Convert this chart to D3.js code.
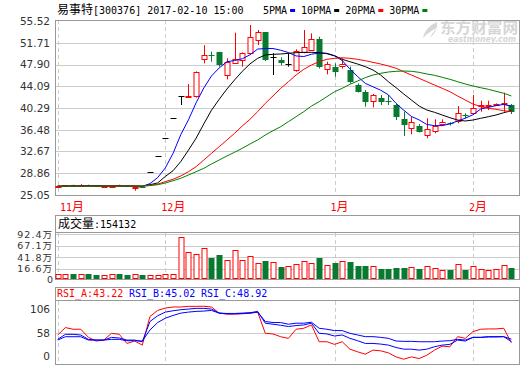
<!DOCTYPE html>
<html>
<head>
<meta charset="utf-8">
<title>易事特 300376</title>
<script src="https://cdn.jsdelivr.net/npm/d3@7"></script>
<style>
  body { margin: 0; background: #fff; }
  svg text { font-family: "DejaVu Sans", sans-serif; }
</style>
</head>
<body>
<div id="chart"></div>
<script>
// ---- data ----
const monthLabels = ["11月", "12月", "1月", "2月"];
const monthStart = [0, 14, 36, 54];

const open = [26.50, 26.55, 26.80, 26.65, 26.80, 26.70, 26.55, 26.55, 26.80, 26.65, 26.45, 26.50,
  29.00, 31.90, 35.05, 38.50, 42.30, 42.10, 42.26, 48.81, 49.50, 50.14, 46.18, 48.11, 48.69, 49.97,
  52.31, 53.54, 49.16, 48.69, 47.94, 47.06, 50.03, 50.44, 52.37, 47.06, 47.52, 47.52, 46.94, 44.31,
  43.14, 41.56, 42.04, 41.56, 40.81, 38.30, 36.73, 37.13, 35.56, 36.26, 37.60, 37.60, 37.89, 39.00,
  39.35, 40.63, 40.69, 40.75, 40.98, 40.75];
const high = [26.60, 26.80, 26.85, 26.95, 26.85, 26.75, 26.65, 26.70, 26.85, 26.70, 26.55, 26.55,
  29.00, 31.90, 35.05, 38.50, 42.30, 44.49, 46.70, 51.30, 50.14, 50.14, 48.98, 53.47, 50.03, 54.82,
  53.94, 53.54, 49.86, 49.16, 49.86, 50.56, 53.94, 53.36, 52.77, 48.39, 48.11, 48.98, 47.52, 44.60,
  43.44, 42.74, 42.56, 42.56, 41.00, 39.64, 38.76, 37.48, 38.48, 38.30, 38.30, 37.78, 40.63, 39.35,
  42.56, 41.56, 41.56, 41.10, 42.97, 40.98];
const low = [26.30, 26.50, 26.60, 26.60, 26.60, 26.55, 26.50, 26.50, 26.60, 26.55, 25.80, 26.35,
  29.00, 31.90, 35.05, 38.50, 40.81, 42.10, 42.10, 48.10, 48.39, 47.52, 45.31, 48.11, 47.52, 49.80,
  51.32, 48.50, 46.06, 47.76, 47.52, 46.64, 49.86, 50.30, 47.20, 46.18, 45.77, 47.20, 44.60, 43.00,
  40.51, 40.40, 40.81, 40.81, 38.18, 35.38, 35.68, 36.00, 34.98, 35.85, 37.13, 37.20, 37.60, 38.48,
  39.06, 39.64, 39.93, 40.70, 39.64, 39.23];
const close = [26.55, 26.75, 26.65, 26.75, 26.65, 26.60, 26.60, 26.65, 26.65, 26.60, 26.50, 26.40,
  29.00, 31.90, 35.05, 38.50, 42.30, 42.30, 46.54, 49.57, 49.45, 47.94, 48.39, 48.81, 49.86, 52.77,
  53.65, 48.69, 49.16, 48.22, 47.94, 50.32, 50.91, 52.37, 47.41, 47.94, 46.64, 47.94, 44.89, 43.14,
  41.39, 42.56, 41.39, 41.33, 38.76, 37.31, 37.78, 36.14, 36.55, 37.13, 37.89, 37.37, 39.35, 38.83,
  40.23, 40.81, 40.81, 40.93, 41.21, 39.46];
// volume, 万
const volume = [5.0, 5.0, 5.8, 5.0, 5.8, 3.6, 2.9, 5.0, 5.8, 3.6, 5.0, 3.6, 2.9, 2.9, 5.0, 5.0,
  85.3, 54.2, 48.4, 61.4, 41.2, 47.0, 35.4, 57.1, 35.4, 44.1, 28.9, 34.0, 31.1, 21.7, 23.1, 27.4,
  34.0, 29.6, 41.2, 25.3, 30.3, 34.0, 31.8, 23.8, 23.1, 23.1, 17.3, 16.6, 19.5, 19.5, 20.9, 16.6,
  23.1, 19.5, 13.7, 14.4, 26.7, 14.4, 23.1, 16.6, 14.4, 16.6, 25.3, 19.5];

const ma5 = [26.60, 26.60, 26.62, 26.65, 26.68, 26.67, 26.65, 26.63, 26.63, 26.62, 26.60, 26.56,
  27.04, 28.10, 29.80, 32.35, 35.60, 38.20, 41.20, 43.80, 45.90, 47.30, 48.39, 48.60, 48.90, 49.60,
  50.60, 50.70, 50.70, 50.40, 50.00, 49.40, 49.30, 49.70, 49.90, 49.80, 49.40, 48.60, 47.10, 45.80,
  44.60, 44.00, 43.40, 42.60, 41.10, 39.90, 38.80, 38.20, 37.40, 37.20, 37.20, 37.50, 38.00, 38.50,
  39.10, 40.10, 40.40, 40.70, 40.90, 40.60];
const ma10 = [26.60, 26.60, 26.60, 26.61, 26.62, 26.63, 26.63, 26.63, 26.63, 26.62, 26.62, 26.60,
  26.85, 27.16, 28.30, 29.30, 30.90, 32.90, 35.00, 37.50, 39.90, 41.80, 43.60, 45.20, 46.70, 48.00,
  48.98, 49.57, 49.69, 49.74, 49.86, 49.97, 50.03, 50.03, 49.97, 49.86, 49.45, 48.81, 48.39, 47.99,
  47.52, 46.94, 46.06, 44.89, 43.84, 42.74, 41.68, 40.63, 39.93, 39.53, 39.06, 38.59, 38.18, 38.01,
  38.18, 38.48, 38.76, 39.06, 39.46, 39.81];
const ma20 = [26.60, 26.60, 26.60, 26.60, 26.61, 26.61, 26.62, 26.62, 26.62, 26.62, 26.61, 26.60,
  26.75, 26.95, 27.40, 27.80, 28.38, 29.13, 30.01, 31.18, 32.35, 33.51, 34.68, 35.85, 37.13, 38.30,
  39.64, 41.10, 42.39, 43.73, 44.89, 46.06, 47.06, 47.81, 48.39, 48.81, 48.98, 49.09, 48.98, 48.81,
  48.57, 48.28, 47.99, 47.64, 47.24, 46.64, 46.06, 45.48, 44.89, 44.31, 43.73, 43.14, 42.39, 41.68,
  40.98, 40.51, 40.23, 40.06, 39.81, 39.64];
const ma30 = [26.60, 26.60, 26.60, 26.60, 26.60, 26.60, 26.61, 26.61, 26.61, 26.61, 26.61, 26.60,
  26.70, 26.85, 27.15, 27.55, 27.97, 28.55, 29.13, 29.72, 30.48, 31.18, 31.88, 32.53, 33.23, 33.98,
  34.68, 35.56, 36.31, 37.01, 37.89, 38.76, 39.64, 40.63, 41.39, 42.26, 43.14, 43.73, 44.43, 45.01,
  45.60, 46.06, 46.36, 46.59, 46.71, 46.76, 46.71, 46.53, 46.24, 46.01, 45.66, 45.31, 44.89, 44.49,
  44.14, 43.84, 43.56, 43.21, 42.86, 42.39];

const rsiA = [55.3, 66.9, 64.3, 64.3, 51.7, 46.0, 47.5, 58.0, 56.4, 42.3, 46.0, 39.7,
  84.1, 93.5, 97.2, 98.8, 98.8, 99.8, 99.8, 100.0, 98.8, 89.3, 87.8, 87.8, 88.3, 89.3,
  91.0, 58.0, 57.0, 52.7, 50.1, 64.3, 65.8, 71.0, 44.9, 44.9, 40.8, 44.9, 33.4, 29.3,
  25.6, 31.9, 30.8, 27.7, 21.4, 17.8, 21.4, 18.8, 24.0, 31.9, 38.1, 37.1, 52.8, 50.2,
  60.6, 64.3, 64.8, 64.8, 65.8, 43.2];
const rsiB = [48.6, 56.4, 56.4, 55.3, 48.6, 47.5, 47.5, 51.7, 50.7, 47.5, 47.5, 44.9,
  76.3, 85.2, 90.9, 93.0, 94.6, 95.6, 96.7, 96.7, 95.6, 89.3, 88.8, 88.8, 89.3, 89.9,
  92.0, 73.7, 72.1, 70.5, 68.5, 70.0, 71.0, 73.7, 58.0, 57.0, 53.8, 55.4, 50.2, 46.5,
  42.3, 42.3, 41.3, 39.7, 36.0, 33.4, 33.4, 31.9, 33.4, 37.1, 39.7, 40.8, 47.5, 46.0,
  51.7, 51.7, 52.8, 52.8, 52.8, 45.0];
const rsiC = [47.5, 52.7, 52.7, 52.7, 47.5, 47.5, 47.5, 48.6, 48.6, 46.5, 46.5, 46.0,
  63.2, 74.7, 81.5, 85.7, 89.3, 90.9, 92.0, 92.5, 93.5, 89.3, 88.3, 88.3, 88.8, 89.3,
  90.9, 76.3, 74.7, 74.7, 72.1, 73.7, 73.7, 75.2, 65.8, 64.3, 62.2, 62.2, 58.0, 55.4,
  52.8, 52.8, 51.7, 50.2, 46.0, 45.5, 45.5, 44.9, 44.9, 44.9, 46.0, 46.5, 48.6, 47.5,
  51.7, 51.7, 52.3, 52.3, 52.8, 48.9];

const priceTicks = [55.52, 51.71, 47.90, 44.09, 40.29, 36.48, 32.67, 28.86, 25.05];
const volTicks = [92.4, 67.1, 41.8, 16.6];
const rsiTicks = [106, 58];

const maNames = ["5PMA", "10PMA", "20PMA", "30PMA"];
const maColors = ["#0000ff", "#000000", "#ff0000", "#008000"];

// ---- layout ----
const W = 520, H = 365;
const L = 56, R = 519;
const RED = "#ff0000", GREEN = "#087a30", GRID = "#cccccc", BORDER = "#999999";

const svg = d3.select("#chart").append("svg").attr("width", W).attr("height", H);

const n = close.length;
const x = d3.scalePoint().domain(d3.range(n)).range([57.7, 511.4]);
const yP = d3.scaleLinear().domain([25.05, 55.52]).range([195, 21]);
const yV = d3.scaleLinear().domain([-5.1, 96.2]).range([279, 232.3]);
const yR = d3.scaleLinear().domain([9.9, 108.6]).range([364.3, 300.7]);

const px = v => Math.round(v) + 0.5;
const isCjk = s => /[\u4e00-\u9fff]/.test(s);

// mixed latin / CJK text like the old bitmap font
function mixText(g, str, tx, ty, fill, asciiSize, cjkSize, anchor, latinFont) {
  const t = g.append("text").attr("x", tx).attr("y", ty).attr("fill", fill)
    .attr("text-anchor", anchor || "start");
  (str.match(/[\u4e00-\u9fff]+|[^\u4e00-\u9fff]+/g) || []).forEach(part => {
    const cjk = isCjk(part);
    t.append("tspan").text(part)
      .style("font-family", cjk ? "'Noto Sans CJK SC', sans-serif" : (latinFont || "'DejaVu Sans Mono', monospace"))
      .style("font-size", (cjk ? cjkSize : asciiSize) + "px");
  });
  return t;
}

function box(top, bottom) {
  svg.append("rect").attr("x", L - 0.5).attr("y", top + 0.5)
    .attr("width", R - L + 1).attr("height", bottom - top)
    .attr("fill", "none").attr("stroke", BORDER);
}

function monthLines(top, bottom) {
  svg.append("g").selectAll("line").data(monthStart).join("line")
    .attr("x1", d => px(x(d))).attr("x2", d => px(x(d)))
    .attr("y1", top).attr("y2", bottom)
    .attr("stroke", GRID).attr("stroke-dasharray", "4,3");
}

// ---- header ----
mixText(svg, "易事特[300376] 2017-02-10 15:00", 57, 14, "#000", 10, 12);
let lx = 263;
maNames.forEach((name, k) => {
  mixText(svg, name, lx, 14, "#000", 10, 12);
  lx += name.length * 6.02 + 3;
  svg.append("rect").attr("x", lx).attr("y", 9).attr("width", 5).attr("height", 3).attr("fill", maColors[k]);
  lx += 11;
});

// ---- price panel ----
svg.append("g").selectAll("line").data(priceTicks.slice(1, -1)).join("line")
  .attr("x1", L).attr("x2", R).attr("y1", d => px(yP(d))).attr("y2", d => px(yP(d)))
  .attr("stroke", GRID);
monthLines(20, 195);

// watermark
svg.append("path")
  .attr("d", "M437,22 C430,25 424,31 423,38 C428,33 432,30 437,28 C433,32 431,35 430,38 C435,33 438,28 437,22 Z")
  .attr("fill", "#d6d6d6");
svg.append("text").attr("x", 440).attr("y", 33).text("东方财富网")
  .attr("textLength", 78).attr("lengthAdjust", "spacingAndGlyphs")
  .style("font-family", "'Noto Sans CJK SC', sans-serif").style("font-size", "15px")
  .style("font-weight", "bold").attr("fill", "#d6d6d6");
svg.append("text").attr("x", 448).attr("y", 42).text("eastmoney.com")
  .attr("textLength", 68).attr("lengthAdjust", "spacingAndGlyphs")
  .style("font-size", "8px").style("font-weight", "bold").style("font-style", "italic")
  .attr("fill", "#d6d6d6");

box(20, 195);

const axP = svg.append("g").attr("transform", `translate(${L - 3},0)`)
  .call(d3.axisLeft(yP).tickValues(priceTicks).tickSize(0).tickFormat(d3.format(".2f")));
axP.select(".domain").remove();
axP.selectAll("text").attr("fill", "#333").style("font-size", "10.5px")
  .style("font-family", "'DejaVu Sans', sans-serif");

const colorOf = i => close[i] > open[i] ? RED : close[i] < open[i] ? GREEN : "#000";

const candles = svg.append("g");
d3.range(n).forEach(i => {
  const cx = px(x(i));
  const col = colorOf(i);
  candles.append("line").attr("x1", cx).attr("x2", cx)
    .attr("y1", yP(high[i])).attr("y2", yP(low[i])).attr("stroke", col);
  if (close[i] === open[i]) {
    candles.append("line").attr("x1", cx - 3).attr("x2", cx + 3)
      .attr("y1", px(yP(close[i]))).attr("y2", px(yP(close[i]))).attr("stroke", col);
  } else if (close[i] > open[i]) {
    const y0 = yP(close[i]), y1 = yP(open[i]);
    candles.append("rect").attr("x", cx - 2.5).attr("y", Math.round(y0) + 0.5)
      .attr("width", 5).attr("height", Math.max(1, Math.round(y1 - y0)))
      .attr("fill", "#fff").attr("stroke", col);
  } else {
    const y0 = yP(open[i]), y1 = yP(close[i]);
    candles.append("rect").attr("x", cx - 3).attr("y", Math.round(y0))
      .attr("width", 6).attr("height", Math.max(1, Math.round(y1 - y0)))
      .attr("fill", col);
  }
});

[ma5, ma10, ma20, ma30].forEach((s, k) => {
  svg.append("path").datum(s)
    .attr("d", d3.line().x((d, i) => x(i)).y(d => yP(d)))
    .attr("fill", "none").attr("stroke", maColors[k]).attr("stroke-width", 1);
});

// month labels
monthLabels.forEach((m, k) => {
  mixText(svg, m, Math.max(60, x(monthStart[k]) - 4), 211, RED, 10, 12);
});

// ---- volume panel ----
box(215, 232);
mixText(svg, "成交量:" + "154132", 58, 228, "#000", 10, 12);
svg.append("g").selectAll("line").data(volTicks).join("line")
  .attr("x1", L).attr("x2", R).attr("y1", d => px(yV(d))).attr("y2", d => px(yV(d)))
  .attr("stroke", GRID);
monthLines(233, 279);
box(232, 279);

const volLabels = svg.append("g");
volTicks.concat([yV.domain()[0]]).forEach(v => {
  const t = mixText(volLabels, v < 0 ? "0" : v + "万", 53, yV(v) + 3.5, "#333", 9.5, 9.5, "end",
    "'DejaVu Sans', sans-serif");
  t.attr("letter-spacing", v < 0 ? 0 : 1);
});

svg.append("g").selectAll("rect").data(volume).join("rect")
  .each(function(v, i) {
    const cx = px(x(i));
    const up = close[i] >= open[i];
    const top = Math.round(yV(v));
    const r = d3.select(this);
    if (up) {
      r.attr("x", cx - 2.5).attr("y", top + 0.5).attr("width", 5).attr("height", 278.5 - top - 0.5)
        .attr("fill", "#fff").attr("stroke", RED);
    } else {
      r.attr("x", cx - 3).attr("y", top).attr("width", 6).attr("height", 279 - top).attr("fill", GREEN);
    }
  });

// ---- RSI panel ----
box(287, 300);
const rsiHead = [["RSI_A:43.22", RED, 57], ["RSI_B:45.02", "#0000ff", 129], ["RSI_C:48.92", "#0000ff", 201]];
rsiHead.forEach(h => mixText(svg, h[0], h[2], 297, h[1], 10, 12));
svg.append("line").attr("x1", L).attr("x2", R)
  .attr("y1", px(yR(58))).attr("y2", px(yR(58))).attr("stroke", GRID);
monthLines(301, 364);
box(300, 364);

const axR = svg.append("g").attr("transform", `translate(${L - 3},0)`)
  .call(d3.axisLeft(yR).tickValues(rsiTicks.concat([yR.domain()[0]])).tickSize(0)
    .tickFormat(d => d < 10 ? "0" : d));
axR.select(".domain").remove();
axR.selectAll("text").attr("fill", "#333").style("font-size", "10.5px")
  .attr("dy", d => d === 106 ? "0.95em" : d < 10 ? "-0.45em" : "0.32em");

[[rsiA, RED], [rsiB, "#0000ff"], [rsiC, "#0000ff"]].forEach(([s, c]) => {
  svg.append("path").datum(s)
    .attr("d", d3.line().x((d, i) => x(i)).y(d => yR(d)))
    .attr("fill", "none").attr("stroke", c).attr("stroke-width", 1);
});
</script>
</body>
</html>
